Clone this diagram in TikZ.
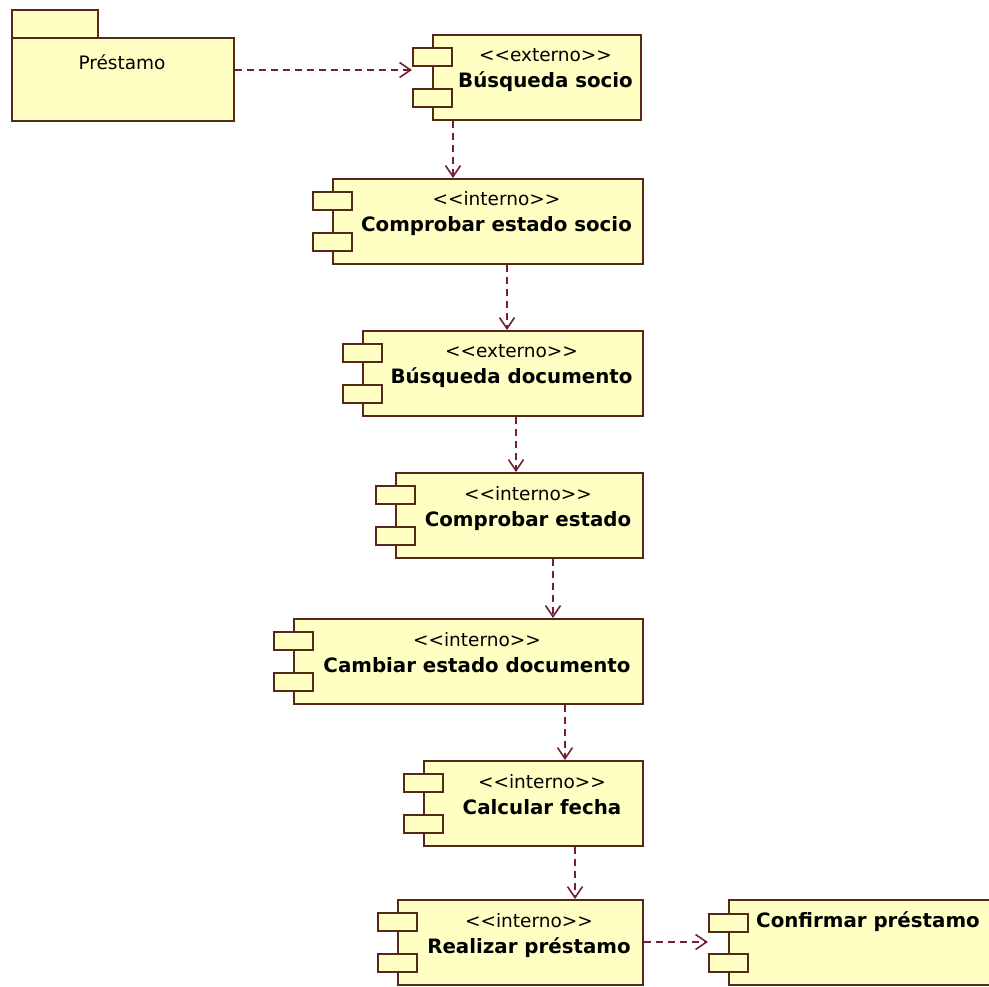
\documentclass[tikz,border=0pt]{standalone}
\usepackage{fontspec}
\setmainfont{DejaVu Sans}[Ligatures=TeXOff]
\usetikzlibrary{arrows.meta}
\definecolor{umlfill}{HTML}{FFFFC4}
\definecolor{umlline}{HTML}{552818}
\definecolor{deplink}{HTML}{74203A}
\tikzset{
  compbody/.style={draw=umlline, fill=umlfill, line width=1.8pt, inner sep=0pt, minimum height=85pt},
  port/.style={draw=umlline, fill=umlfill, line width=1.8pt, inner sep=0pt, minimum width=39pt, minimum height=18pt},
  stereo/.style={inner sep=0pt, anchor=base, font=\fontsize{18.5}{21}\selectfont, text=black},
  ctitle/.style={inner sep=0pt, anchor=base, font=\fontsize{19.8}{23}\selectfont\bfseries, text=black},
  dep/.style={draw=deplink, line width=1.6pt, dash pattern=on 7pt off 5pt,
    -{Straight Barb[length=11pt, width=15pt, line width=1.6pt]}}
}
\newcommand{\mkcomp}[6]{%
  \pgfmathsetmacro\cw{#4-#2}%
  \pgfmathsetmacro\pl{#2-20}%
  \pgfmathsetmacro\tc{(#2+19+#4)/2}%
  \pgfmathsetmacro\ta{#3+13}%
  \pgfmathsetmacro\tb{#3+54}%
  \pgfmathsetmacro\sy{#3+28}%
  \pgfmathsetmacro\ny{#3+54}%
  \node[compbody, minimum width=\cw pt, anchor=north west] (#1) at (#2,#3) {};
  \node[port, anchor=north west] (#1-p1) at (\pl,\ta) {};
  \node[port, anchor=north west] (#1-p2) at (\pl,\tb) {};
  \node[stereo] (#1-s) at (\tc,\sy) {#5};
  \node[ctitle] (#1-t) at (\tc,\ny) {#6};
}
\begin{document}
\begin{tikzpicture}[x=1pt, y=-1pt]
\useasboundingbox (0,0) rectangle (989,987);
\fill[white] (0,0) rectangle (989,987);

% package
\node[draw=umlline, fill=umlfill, line width=1.8pt, inner sep=0pt, minimum width=86pt, minimum height=28pt, anchor=north west] (pkgtab) at (11,9) {};
\node[draw=umlline, fill=umlfill, line width=1.8pt, inner sep=0pt, minimum width=222pt, minimum height=83pt, anchor=north west] (pkg) at (11,37) {};
\node[inner sep=0pt, anchor=base, font=\fontsize{18.5}{21}\selectfont] (pkgname) at (122,70) {Préstamo};

% components
\mkcomp{c1}{432}{34}{640}{<<externo>>}{Búsqueda socio}
\mkcomp{c2}{332}{178}{642}{<<interno>>}{Comprobar estado socio}
\mkcomp{c3}{362}{330}{642}{<<externo>>}{Búsqueda documento}
\mkcomp{c4}{395}{472}{642}{<<interno>>}{Comprobar estado}
\mkcomp{c5}{293}{618}{642}{<<interno>>}{Cambiar estado documento}
\mkcomp{c6}{423}{760}{642}{<<interno>>}{Calcular fecha}
\mkcomp{c7}{397}{899}{642}{<<interno>>}{Realizar préstamo}

% last component (name only)
\node[compbody, minimum width=264pt, anchor=north west] (c8) at (728,899) {};
\node[port, anchor=north west] (c8-p1) at (708,913) {};
\node[port, anchor=north west] (c8-p2) at (708,953) {};
\node[ctitle] (c8-t) at (868,927) {Confirmar préstamo};

% dependencies
\draw[dep] (pkg.east |- 0,70) -- (c1-p1.west |- 0,70);
\draw[dep] (c1.south -| 453,0) -- (c2.north -| 453,0);
\draw[dep] (c2.south -| 507,0) -- (c3.north -| 507,0);
\draw[dep] (c3.south -| 516,0) -- (c4.north -| 516,0);
\draw[dep] (c4.south -| 553,0) -- (c5.north -| 553,0);
\draw[dep] (c5.south -| 565,0) -- (c6.north -| 565,0);
\draw[dep] (c6.south -| 575,0) -- (c7.north -| 575,0);
\draw[dep] (c7.east |- 0,942) -- (c8-p1.west |- 0,942);
\end{tikzpicture}
\end{document}
